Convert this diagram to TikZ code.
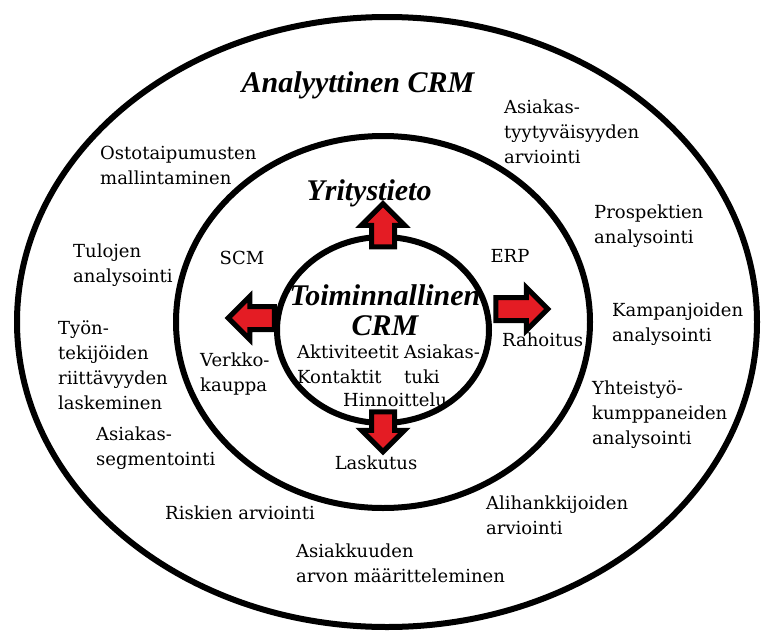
\documentclass[tikz,border=0pt]{standalone}
\usepackage{fontspec}
\setmainfont{DejaVu Serif}
\newfontfamily\headfont{Liberation Serif}
\usetikzlibrary{shapes.arrows,positioning}
\definecolor{flowred}{RGB}{228,28,36}

\begin{document}
\begin{tikzpicture}[x=1pt, y=-1pt, font=\fontsize{18}{25}\selectfont]
      \tikzstyle{ring}  = [line width=6]
      \tikzstyle{item}  = [align=left, anchor=west, inner sep=0]
      \tikzstyle{label} = [align=center, inner sep=0]
      \tikzstyle{head}  = [font=\headfont\fontsize{30}{30}\selectfont\bfseries\itshape, align=center, inner sep=0]
      \tikzstyle{flow}  = [single arrow, draw, fill=flowred, line width=5, inner xsep=0, inner ysep=9,
                           single arrow head extend=10]

      \useasboundingbox (0,0) rectangle (763,635);

      % the three layers
      \draw[ring] (387,322) ellipse [x radius=370, y radius=305];
      \draw[ring] (383,322) ellipse [x radius=207, y radius=186];
      \draw[ring] (383,330) ellipse [x radius=106, y radius=93];

      % arrows out of the core
      \node[flow, minimum height=43, rotate=90]  (up)    at (383,231) {};
      \node[flow, minimum height=52, rotate=0]   (right) at (516,309) {};
      \node[flow, minimum height=46, rotate=180] (left)  at (257,318) {};
      \node[flow, minimum height=40, rotate=-90] (down)  at (383,426) {};

      % headings
      \node[head] (anal) at (358,85)  {Analyyttinen CRM};
      \node[head] (yri)  at (369,193) {Yritystieto};
      \node[head] (toim) at (385,310) {Toiminnallinen\\CRM};

      % outer layer
      \node[item] (osto) at (100,165) {Ostotaipumusten\\mallintaminen};
      \node[item] (tyyt) at (504,132) {Asiakas-\\tyytyväisyyden\\arviointi};
      \node[item] (pros) at (594,226) {Prospektien\\analysointi};
      \node[item] (tulo) at (73,265)  {Tulojen\\analysointi};
      \node[item] (kamp) at (612,324) {Kampanjoiden\\analysointi};
      \node[item] (tyon) at (58,365)  {Työn-\\tekijöiden\\riittävyyden\\laskeminen};
      \node[item] (yht)  at (592,415) {Yhteistyö-\\kumppaneiden\\analysointi};
      \node[item] (segm) at (96,448)  {Asiakas-\\segmentointi};
      \node[item] (ali)  at (486,515) {Alihankkijoiden\\arviointi};
      \node[item] (risk) at (165,513) {Riskien arviointi};
      \node[item] (arvo) at (296,563) {Asiakkuuden\\arvon määritteleminen};

      % middle layer
      \node[label] (scm)  at (242,258) {SCM};
      \node[label] (erp)  at (510,256) {ERP};
      \node[item]  (verk) at (200,374) {Verkko-\\kauppa};
      \node[item]  (raha) at (502,340) {Rahoitus};
      \node[label] (lask) at (376,463) {Laskutus};

      % core
      \node[item]  (akt)  at (297,364) {Aktiviteetit\\Kontaktit};
      \node[item]  (tuki) at (404,364) {Asiakas-\\tuki};
      \node[label] (hinn) at (395,400) {Hinnoittelu};
\end{tikzpicture}
\end{document}
